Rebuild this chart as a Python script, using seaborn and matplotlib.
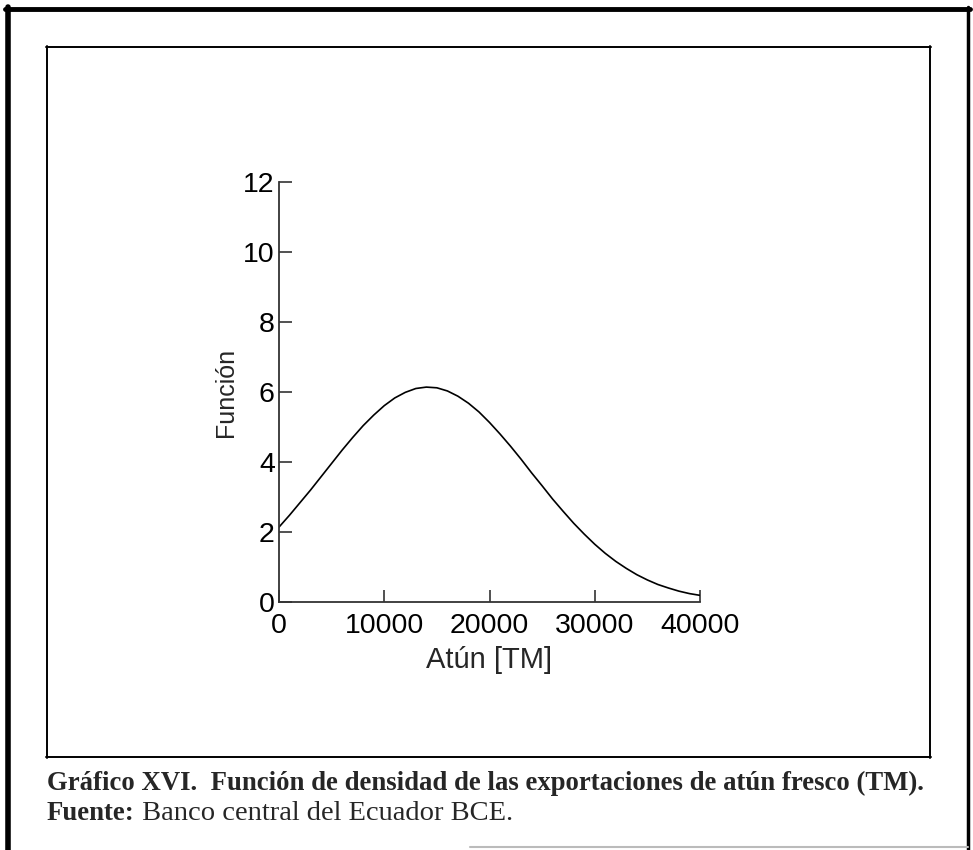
import numpy as np
import pandas as pd
import matplotlib
matplotlib.use('Agg')
import matplotlib.pyplot as plt
import seaborn as sns
from matplotlib.lines import Line2D

# Density curve
atun_tm = [0, 1000, 2000, 3000, 4000, 5000, 6000, 7000, 8000, 9000, 10000,
           11000, 12000, 13000, 14000, 15000, 16000, 17000, 18000, 19000, 20000,
           21000, 22000, 23000, 24000, 25000, 26000, 27000, 28000, 29000, 30000,
           31000, 32000, 33000, 34000, 35000, 36000, 37000, 38000, 39000, 40000]
funcion = [2.14, 2.48, 2.84, 3.20, 3.58, 3.96, 4.34, 4.70, 5.04, 5.34, 5.61,
           5.83, 5.99, 6.10, 6.14, 6.12, 6.03, 5.88, 5.68, 5.43, 5.13,
           4.80, 4.45, 4.08, 3.69, 3.32, 2.94, 2.59, 2.25, 1.94, 1.65,
           1.39, 1.16, 0.96, 0.78, 0.63, 0.50, 0.40, 0.31, 0.24, 0.19]

x_ticks = [0, 10000, 20000, 30000, 40000]
y_ticks = [0, 2, 4, 6, 8, 10, 12]

caption_title = 'Gráfico XVI.  Función de densidad de las exportaciones de atún fresco (TM).'
caption_src_bold = 'Fuente:'
caption_src = ' Banco central del Ecuador BCE.'

sns.set_style('ticks')
plt.rcParams['font.family'] = ['Liberation Sans', 'DejaVu Sans']

df = pd.DataFrame({'x': atun_tm, 'y': funcion})

W, H = 973, 850
fig = plt.figure(figsize=(W / 100, H / 100), dpi=100)
fig.patch.set_facecolor('white')

# axes placed in pixel terms
ax_l, ax_r, ax_t, ax_b = 279, 700, 182, 602
ax = fig.add_axes([ax_l / W, (H - ax_b) / H, (ax_r - ax_l) / W, (ax_b - ax_t) / H])

sns.lineplot(data=df, x='x', y='y', ax=ax, color='black', linewidth=1.2)

ax.set_xlim(0, 40000)
ax.set_ylim(0, 12)
ax.set_xticks(x_ticks)
ax.set_yticks(y_ticks)
ax.tick_params(axis='both', direction='in', labelsize=20.5, colors='#333333',
               labelcolor='black', width=1.2)
ax.tick_params(axis='y', length=9, pad=3)
ax.tick_params(axis='x', length=9, pad=8)
for side in ['top', 'right']:
    ax.spines[side].set_visible(False)
for side in ['left', 'bottom']:
    ax.spines[side].set_color('#333333')
    ax.spines[side].set_linewidth(1.3)

ax.set_xlabel('Atún [TM]', fontsize=21, labelpad=5)
ax.set_ylabel('Función', fontsize=18, labelpad=4)

# frames around the figure
def hline(y, x0, x1, lw, color='black'):
    fig.add_artist(Line2D([x0 / W, x1 / W], [1 - y / H, 1 - y / H], lw=lw, color=color))

def vline(x, y0, y1, lw, color='black'):
    fig.add_artist(Line2D([x / W, x / W], [1 - y0 / H, 1 - y1 / H], lw=lw, color=color))

# outer frame
hline(9, 5, 970, 3.5)
vline(8, 7, 850, 4)
vline(968, 7, 850, 2.5)
hline(847, 470, 968, 1.5, color='#bbbbbb')

# inner frame
hline(47, 46, 931, 1.4)
hline(757, 46, 931, 1.4)
vline(47, 46, 758, 1.4)
vline(930, 46, 758, 1.4)

# caption
fig.text(47 / W, 1 - 783 / H, caption_title, fontsize=19.3, fontweight='bold',
         family='Liberation Serif', va='center', ha='left')
t_bold = fig.text(47 / W, 1 - 813 / H, caption_src_bold, fontsize=19.3, fontweight='bold',
                  family='Liberation Serif', va='center', ha='left')
fig.canvas.draw()
bb = t_bold.get_window_extent()
fig.text(bb.x1 / W, 1 - 813 / H, caption_src, fontsize=20.5,
         family='Liberation Serif', va='center', ha='left')

plt.savefig('out.png', dpi=100, facecolor='white')
plt.close()
